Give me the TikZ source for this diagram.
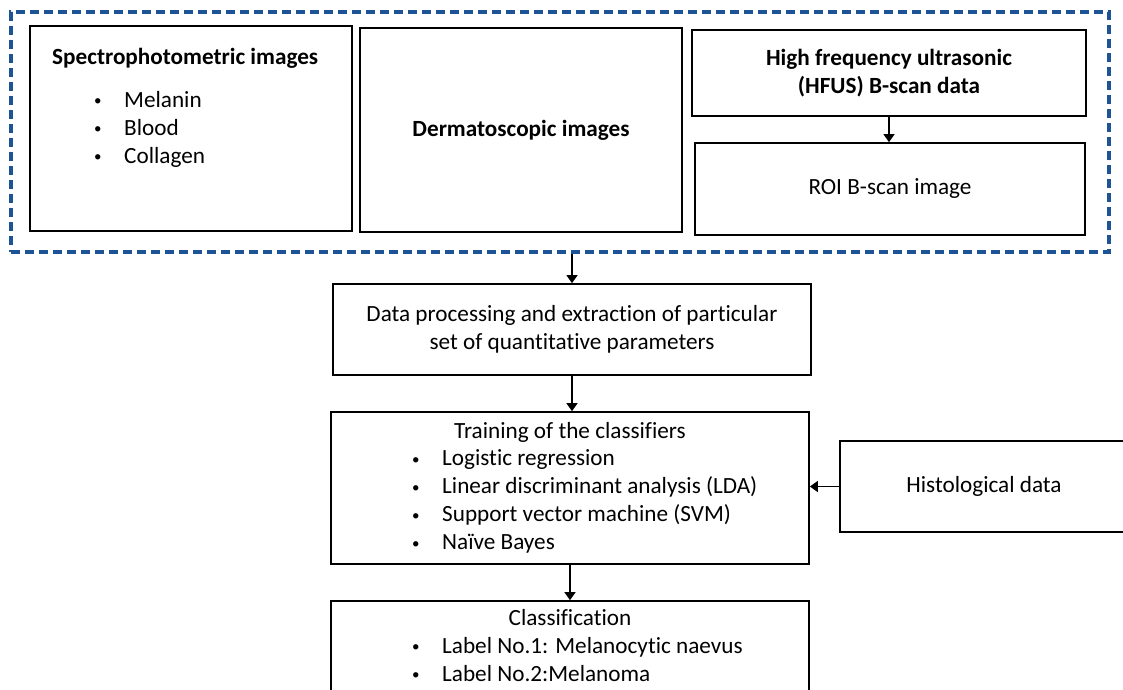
\documentclass[tikz,border=0pt]{standalone}
\usepackage{fontspec}
\setmainfont[Ligatures=NoCommon]{Carlito}
\usetikzlibrary{positioning,arrows.meta}

\definecolor{frameblue}{RGB}{28,84,150}
% small bullet with the hanging gap before the item text
\newcommand{\itm}{\makebox[30pt][l]{\raisebox{1.5pt}{\fontsize{15}{15}\selectfont\textbullet}}}

\begin{document}
\begin{tikzpicture}[x=1pt, y=-1pt,
  font=\fontsize{23.2}{28}\selectfont,
  box/.style={rectangle, draw, line width=1.7pt, align=center, inner sep=0pt},
  txt/.style={inner sep=0pt, align=left},
  frame/.style={rectangle, draw=frameblue, line width=3.2pt, dash pattern=on 9pt off 5pt},
  line/.style={draw, line width=1.4pt, -{Triangle[width=11pt,length=8pt]}}]

  \useasboundingbox (0,0) rectangle (1123,689);
  \clip (0,0) rectangle (1123,689);

  % input data, grouped by the dashed frame
  \node [frame, minimum width=1098pt, minimum height=240pt] (inputs) at (560,132) {};

  \node [box, minimum width=322pt, minimum height=205pt] (spectro) at (191,128.5) {};
  \node [txt, anchor=west] (spectrotitle) at (52,58) {\textbf{Spectrophotometric images}};
  \node [txt, anchor=west] (spectrolist) at (94,129) {\itm Melanin\\ \itm Blood\\ \itm Collagen};

  \node [box, minimum width=322pt, minimum height=204pt] (dermato) at (521,130) {\textbf{Dermatoscopic images}};

  \node [box, minimum width=394pt, minimum height=86pt] (hfus) at (889,73) {\textbf{High frequency ultrasonic}\\ \textbf{(HFUS) B-scan data}};
  \node [box, minimum width=390pt, minimum height=92pt] (roi) at (890,189) {ROI B-scan image};

  % processing chain
  \node [box, minimum width=478pt, minimum height=91pt] (data) at (572,329.5) {Data processing and extraction of particular\\ set of quantitative parameters};

  \node [box, minimum width=478pt, minimum height=152pt] (training) at (570,488) {};
  \node [txt, anchor=center] (trainingtitle) at (570,432) {Training of the classifiers};
  \node [txt, anchor=west] (traininglist) at (412,501.5) {\itm Logistic regression\\ \itm Linear discriminant analysis (LDA)\\ \itm Support vector machine (SVM)\\ \itm Naïve Bayes};

  \node [box, minimum width=288pt, minimum height=91pt] (histo) at (984,486.5) {Histological data};

  \node [box, minimum width=478pt, minimum height=120pt] (classif) at (570,661) {};
  \node [txt, anchor=center] (classiftitle) at (570,618) {Classification};
  \node [txt, anchor=west] (classiflist) at (412,659.5) {\itm Label No.1: Melanocytic naevus\\ \itm Label No.2:Melanoma};

  \path [line] (hfus.south) -- (hfus.south |- roi.north);
  \path [line] (inputs.south -| data.north) -- (data.north);
  \path [line] (data.south) -- (data.south |- training.north);
  \path [line] (histo.west) -- (histo.west -| training.east);
  \path [line] (training.south) -- (classif.north);
\end{tikzpicture}
\end{document}
